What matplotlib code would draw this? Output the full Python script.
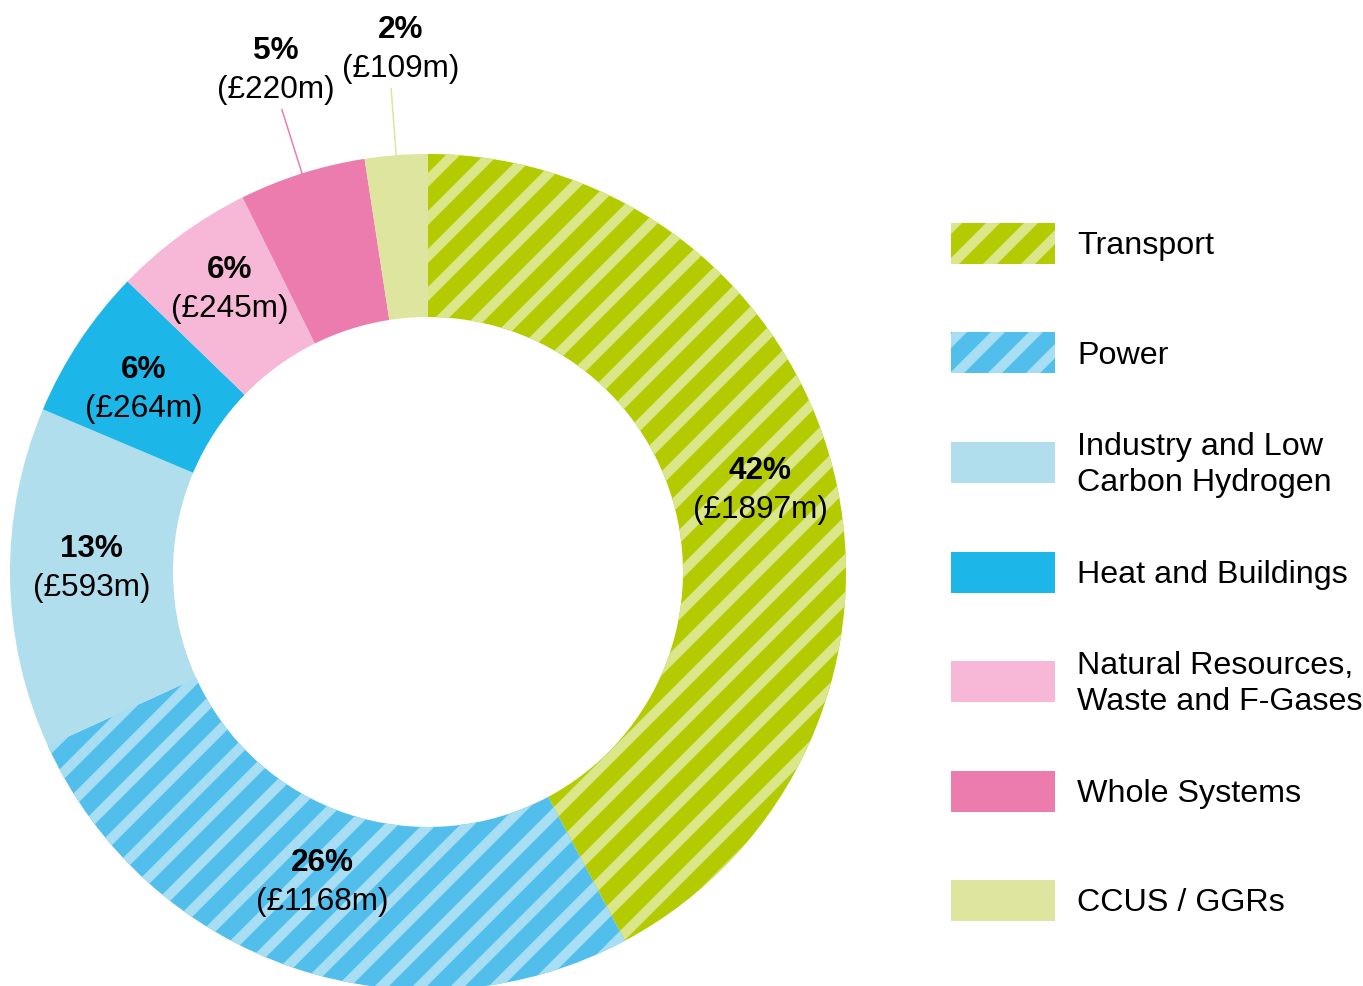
import numpy as np
import matplotlib
matplotlib.use("Agg")
import matplotlib.pyplot as plt
from matplotlib.patches import Rectangle

W, H = 1363, 986
dpi = 228


def pt(px):
    # pixel size -> points at the figure dpi
    return px * 72 / dpi


plt.rcParams['font.family'] = ['Liberation Sans', 'DejaVu Sans']
plt.rcParams['hatch.linewidth'] = pt(10)

# data
categories = ['Transport', 'Power', 'Industry and Low\nCarbon Hydrogen', 'Heat and Buildings',
              'Natural Resources,\nWaste and F-Gases', 'Whole Systems', 'CCUS / GGRs']
values = [1897, 1168, 593, 264, 245, 220, 109]
percents = [42, 26, 13, 6, 6, 5, 2]
colors = ['#b3cb00', '#52beec', '#b0deec', '#1cb6e8', '#f6b8d6', '#ec7cae', '#dde59e']
stripe_colors = ['#dbe58a', '#a8def4', None, None, None, None, None]
outside = [False, False, False, False, False, True, True]
# small label nudges in pixels (right, down)
label_shift = [(8, 0), (1, -6), (-2, -8), (-5, 2), (-1, -12), (-2, 3), (4, 3)]

fig = plt.figure(figsize=(W / dpi, H / dpi), dpi=dpi)
ax = fig.add_axes([0, 0, 1, 1])

cx, cy, R = 428, 572, 418  # pixel centre / radius of the ring

wedges, _ = ax.pie(values, colors=colors, startangle=90, counterclock=False,
                   radius=1, wedgeprops=dict(width=0.39, linewidth=0))
for w, fc, sc in zip(wedges, colors, stripe_colors):
    if sc:
        w.set_hatch('//')
        w.set_edgecolor(sc)
    else:
        w.set_edgecolor(fc)

ax.set_xlim(-cx / R, (W - cx) / R)
ax.set_ylim(-(H - cy) / R, cy / R)
ax.axis('off')

fs = pt(31.5)
total = sum(values)
cum = np.cumsum([0] + values)
for i, v in enumerate(values):
    mid = (cum[i] + v / 2) / total
    ang = np.deg2rad(90 - 360 * mid)
    if outside[i]:
        r = 1.26
        ax.plot([np.cos(ang), 1.16 * np.cos(ang)], [np.sin(ang), 1.16 * np.sin(ang)],
                color=colors[i], lw=pt(1.5))
        ang = ang - np.deg2rad(1.0)
    else:
        r = 0.80
    x, y = r * np.cos(ang), r * np.sin(ang)
    sx, sy = label_shift[i]
    ax.annotate(f'{percents[i]}%', (x, y), xytext=(pt(sx), pt(19.5 - sy)),
                textcoords='offset points', ha='center', va='center',
                fontsize=fs, fontweight='bold')
    ax.annotate(f'(£{v}m)', (x, y), xytext=(pt(sx), -pt(19.5 + sy)),
                textcoords='offset points', ha='center', va='center', fontsize=fs)

# legend
for i, (cat, fc, sc) in enumerate(zip(categories, colors, stripe_colors)):
    top = 223 + i * 109.5
    rect = Rectangle((951 / W, 1 - (top + 41) / H), 104 / W, 41 / H,
                     transform=fig.transFigure, facecolor=fc,
                     edgecolor=sc if sc else fc, hatch='//' if sc else None, linewidth=0)
    fig.add_artist(rect)
    fig.text(1077 / W, 1 - (top + 23) / H, cat, ha='left', va='center',
             fontsize=pt(32.3), linespacing=1.28)

fig.savefig('out.png', dpi=dpi)
